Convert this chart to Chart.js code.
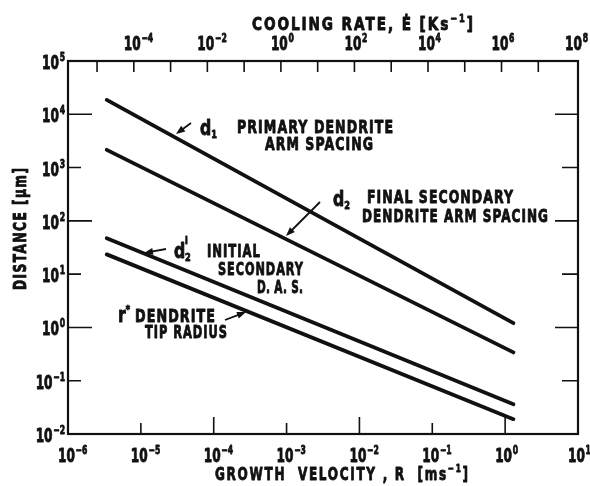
<!DOCTYPE html>
<html lang="en">
<head>
<meta charset="UTF-8">
<title>Dendrite spacing vs growth velocity</title>
<script src="https://cdn.jsdelivr.net/npm/chart.js"></script>
<style>
  body { margin: 0; background: #fff; }
  .wrap { width: 590px; height: 486px; position: relative; }
</style>
</head>
<body>
<div class="wrap"><canvas id="chart"></canvas></div>
<script>
// growth velocity R [m/s] at both ends of the lines
const velocity = [3.4e-6, 1.3];
const primaryArm = [1.86e4, 1.2];       // d1
const finalSecondary = [2150, 0.34];    // d2
const initialSecondary = [47, 0.036];   // d2 i
const tipRadius = [23.5, 0.019];        // r*

// decade exponents used for ticks
const velocityExps = [-6, -5, -4, -3, -2, -1, 0, 1];
const distanceExps = [-2, -1, 0, 1, 2, 3, 4, 5];
const coolingExps = [-5, -4, -3, -2, -1, 0, 1, 2, 3, 4, 5, 6, 7, 8];
const coolingLabelExps = [-4, -2, 0, 2, 4, 6, 8];
const coolingRange = [-5.79, 8.08];

const FONT = '"DejaVu Sans", sans-serif';
const INK = '#111';

function pts(ys) {
    return velocity.map((x, i) => ({ x: x, y: ys[i] }));
}

function font(size) {
    return 'bold ' + size + 'px ' + FONT;
}

// runs: [text, size, dy]; squeezed horizontally by sx, or to fit width w
function drawRuns(ctx, runs, x, y, opt) {
    opt = opt || {};
    const sp = opt.spacing || 0;
    ctx.save();
    ctx.textAlign = 'left';
    ctx.textBaseline = 'alphabetic';
    ctx.letterSpacing = sp + 'px';
    let total = 0;
    const widths = runs.map(r => {
        ctx.font = font(r[1]);
        const w = ctx.measureText(r[0]).width;
        total += w;
        return w;
    });
    let sx = opt.sx || 0.7;
    if (opt.w) sx = opt.w / (total - sp);
    let x0 = x;
    if (opt.align === 'right') x0 = x - (total - sp) * sx;
    if (opt.align === 'center') x0 = x - (total - sp) * sx / 2;
    ctx.translate(x0, y);
    ctx.scale(sx, 1);
    ctx.lineWidth = 0.9;
    ctx.lineJoin = 'round';
    let cx = 0;
    runs.forEach((r, i) => {
        ctx.font = font(r[1]);
        ctx.fillText(r[0], cx, r[2] || 0);
        ctx.strokeText(r[0], cx, r[2] || 0);
        cx += widths[i];
    });
    ctx.restore();
}

function powRuns(exp) {
    return [['10', 19], [' ', 3], [String(exp).replace('-', '\u2212'), 12, -8]];
}

function arrow(ctx, x1, y1, x2, y2) {
    const a = Math.atan2(y2 - y1, x2 - x1);
    ctx.beginPath();
    ctx.moveTo(x1, y1);
    ctx.lineTo(x2 - 6 * Math.cos(a), y2 - 6 * Math.sin(a));
    ctx.lineWidth = 1.8;
    ctx.stroke();
    ctx.beginPath();
    ctx.moveTo(x2, y2);
    ctx.lineTo(x2 - 9 * Math.cos(a) + 3.5 * Math.sin(a), y2 - 9 * Math.sin(a) - 3.5 * Math.cos(a));
    ctx.lineTo(x2 - 9 * Math.cos(a) - 3.5 * Math.sin(a), y2 - 9 * Math.sin(a) + 3.5 * Math.cos(a));
    ctx.closePath();
    ctx.fill();
}

const framePlugin = {
    id: 'frame',
    afterDraw(chart) {
        const ctx = chart.ctx;
        const a = chart.chartArea;
        const xs = chart.scales.x, ys = chart.scales.y, x2 = chart.scales.x2;
        ctx.save();
        ctx.strokeStyle = INK;
        ctx.fillStyle = INK;
        ctx.lineWidth = 2.2;
        ctx.strokeRect(a.left, a.top, a.right - a.left, a.bottom - a.top);

        // inward ticks
        ctx.lineWidth = 1.6;
        ctx.beginPath();
        velocityExps.forEach(e => {
            if (e === -6 || e === 1) return;
            const px = xs.getPixelForValue(Math.pow(10, e));
            const len = e % 2 === 0 ? 17 : 11;
            ctx.moveTo(px, a.bottom);
            ctx.lineTo(px, a.bottom - len);
        });
        distanceExps.forEach(e => {
            if (e === -2 || e === 5) return;
            const py = ys.getPixelForValue(Math.pow(10, e));
            ctx.moveTo(a.left, py);
            ctx.lineTo(a.left + (e % 2 === 0 ? 24 : 13), py);
            ctx.moveTo(a.right, py);
            ctx.lineTo(a.right - (e % 2 === 0 ? 23 : 16), py);
        });
        coolingExps.forEach(e => {
            const px = x2.getPixelForValue(Math.pow(10, e));
            if (px > a.right - 3) return;
            ctx.moveTo(px, a.top);
            ctx.lineTo(px, a.top + 11);
        });
        ctx.stroke();

        // tick labels
        velocityExps.forEach(e => drawRuns(ctx, powRuns(e), xs.getPixelForValue(Math.pow(10, e)) - 10, a.bottom + 28, { sx: 0.64 }));
        distanceExps.forEach(e => drawRuns(ctx, powRuns(e), a.left - 3, ys.getPixelForValue(Math.pow(10, e)) + 8, { sx: 0.64, align: 'right' }));
        coolingLabelExps.forEach(e => drawRuns(ctx, powRuns(e), x2.getPixelForValue(Math.pow(10, e)) - 10, a.top - 11, { sx: 0.64 }));

        // axis titles
        drawRuns(ctx, [['COOLING RATE, \u0116 [Ks', 18], ['\u22121', 11, -8], [']', 18]], 252, 30, { w: 221, spacing: 2.5 });
        drawRuns(ctx, [['GROWTH  VELOCITY , R  [ms', 18], ['\u22121', 11, -8], [']', 18]], 215, 480, { w: 253, spacing: 2.5 });
        ctx.save();
        ctx.translate(26, 290);
        ctx.rotate(-Math.PI / 2);
        drawRuns(ctx, [['DISTANCE [\u03bcm]', 17]], 0, 0, { w: 122, spacing: 2 });
        ctx.restore();

        // line annotations
        drawRuns(ctx, [['d', 21], ['1', 11, 3]], 200, 135, { sx: 0.75 });
        drawRuns(ctx, [['PRIMARY DENDRITE', 18]], 237, 133, { w: 156, spacing: 1.5 });
        drawRuns(ctx, [['ARM SPACING', 18]], 265, 150, { w: 108, spacing: 1.5 });
        arrow(ctx, 191, 123, 176, 134);

        drawRuns(ctx, [['d', 21], ['2', 11, 3]], 333, 206, { sx: 0.75 });
        drawRuns(ctx, [['FINAL SECONDARY', 18]], 367, 203, { w: 146, spacing: 1.5 });
        drawRuns(ctx, [['DENDRITE ARM SPACING', 18]], 362, 222, { w: 186, spacing: 1.5 });
        arrow(ctx, 320, 202, 286, 236);

        drawRuns(ctx, [['d', 21]], 174, 258, { sx: 0.75 });
        drawRuns(ctx, [['i', 11]], 185, 244, { sx: 0.75 });
        drawRuns(ctx, [['2', 11]], 185, 261, { sx: 0.75 });
        drawRuns(ctx, [['INITIAL', 18]], 207, 257, { w: 53, spacing: 1.5 });
        drawRuns(ctx, [['SECONDARY', 18]], 218, 275, { w: 85, spacing: 1.5 });
        drawRuns(ctx, [['D. A. S.', 18]], 257, 293, { w: 46, spacing: 0.5 });
        arrow(ctx, 166, 249, 144, 253);

        drawRuns(ctx, [['r', 21], ['*', 11, -9]], 118, 322, { sx: 0.75 });
        drawRuns(ctx, [['DENDRITE', 18]], 135, 322, { w: 80, spacing: 1.5 });
        drawRuns(ctx, [['TIP RADIUS', 18]], 145, 338, { w: 82, spacing: 1.5 });
        arrow(ctx, 225, 320, 246, 312);
        ctx.restore();
    }
};

const lineStyle = {
    borderColor: INK,
    borderWidth: 3.8,
    pointRadius: 0,
    fill: false,
    borderCapStyle: 'round'
};

new Chart(document.getElementById('chart'), {
    type: 'line',
    data: {
        datasets: [
            Object.assign({ label: 'd1 primary dendrite arm spacing', data: pts(primaryArm) }, lineStyle),
            Object.assign({ label: 'd2 final secondary dendrite arm spacing', data: pts(finalSecondary) }, lineStyle),
            Object.assign({ label: 'd2i initial secondary D.A.S.', data: pts(initialSecondary) }, lineStyle),
            Object.assign({ label: 'r* dendrite tip radius', data: pts(tipRadius) }, lineStyle)
        ]
    },
    options: {
        responsive: true,
        maintainAspectRatio: false,
        animation: false,
        layout: { padding: { left: 68, right: 12, top: 61, bottom: 52 } },
        scales: {
            x: {
                type: 'logarithmic',
                position: 'bottom',
                min: 1e-6,
                max: 10,
                ticks: { display: false },
                grid: { display: false, drawTicks: false },
                border: { display: false }
            },
            x2: {
                type: 'logarithmic',
                position: 'top',
                min: Math.pow(10, coolingRange[0]),
                max: Math.pow(10, coolingRange[1]),
                ticks: { display: false },
                grid: { display: false, drawTicks: false },
                border: { display: false }
            },
            y: {
                type: 'logarithmic',
                min: 1e-2,
                max: 1e5,
                ticks: { display: false },
                grid: { display: false, drawTicks: false },
                border: { display: false }
            }
        },
        plugins: {
            legend: { display: false },
            tooltip: { enabled: false }
        }
    },
    plugins: [framePlugin]
});
</script>
</body>
</html>
